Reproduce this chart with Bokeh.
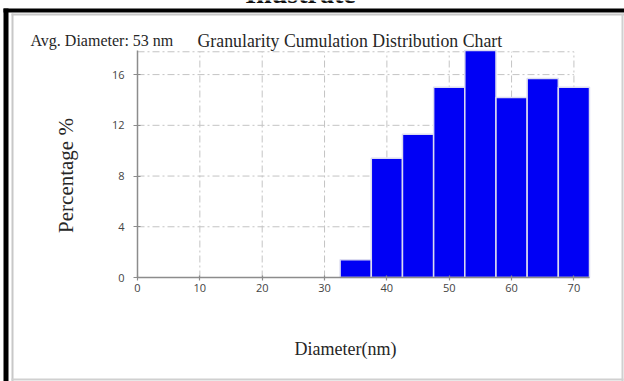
from bokeh.plotting import figure
from bokeh.models import FixedTicker, Label, BoxAnnotation
from bokeh.embed import file_html
from bokeh.resources import INLINE
import math

# Particle size distribution (bin centres in nm, share of particles in %)
diameters = [35, 40, 45, 50, 55, 60, 65, 70]
percentages = [1.4, 9.4, 11.3, 15.0, 17.9, 14.2, 15.7, 15.0]
bin_width = 5

x_ticks = [0, 10, 20, 30, 40, 50, 60, 70]
y_ticks = [0, 4, 8, 12, 16]
x_end = 72.5
y_top = 17.8
y_end = 17.9

chart_title = "Granularity Cumulation Distribution Chart"
avg_text = "Avg. Diameter: 53 nm"
x_title = "Diameter(nm)"
y_title = "Percentage %"
header = "Illustrate"

SERIF = "Liberation Serif"
SANS = "Open Sans"

W, H = 624, 381
# pixel box of the data region on the page
PX_L, PX_R, PX_T, PX_B = 137, 589, 50, 277

sx = (PX_R - PX_L) / x_end
sy = (PX_B - PX_T) / y_end
x_range = (-PX_L / sx, (W - PX_L) / sx)
y_range = (-(H - PX_B) / sy, PX_B / sy)

# the frame fills the whole page; axes are pinned at the data origin
p = figure(width=W, height=H, x_range=x_range, y_range=y_range,
           output_backend="svg", toolbar_location=None,
           min_border=0, min_border_left=0, min_border_right=0,
           min_border_top=0, min_border_bottom=0)
p.title.visible = False
p.background_fill_color = "white"
p.border_fill_color = "white"
p.outline_line_color = None
p.grid.visible = False

# dash-dot grid, spanning 0..70 nm and 0..top
gx = x_ticks[1:]
gy = y_ticks[1:] + [y_top]
grid_style = dict(line_color="#c4c4c4", line_dash="7 3 2 3", line_width=1,
                  level="underlay")
p.segment(x0=gx, x1=gx, y0=[0] * len(gx), y1=[y_top] * len(gx), **grid_style)
p.segment(x0=[0] * len(gy), x1=[x_ticks[-1]] * len(gy), y0=gy, y1=gy, **grid_style)

# histogram bars
p.vbar(x=diameters, top=percentages, width=bin_width,
       fill_color="#0000f5", line_color="#dcdcf0", line_width=1.5)

for ax in (p.xaxis[0], p.yaxis[0]):
    ax.fixed_location = 0
    ax.axis_line_color = "#8c8c8c"
    ax.axis_line_width = 1.5
    ax.major_tick_line_color = "#8c8c8c"
    ax.major_tick_line_width = 1.2
    ax.minor_tick_line_color = None
    ax.major_label_text_font = SANS
    ax.major_label_text_font_size = "11px"
    ax.major_label_text_color = "#444444"

p.xaxis.bounds = (0, x_end)
p.xaxis.ticker = FixedTicker(ticks=x_ticks)
p.xaxis.major_tick_in = 2
p.xaxis.major_tick_out = 3
p.xaxis.major_label_standoff = 3

p.yaxis.bounds = (0, y_end)
p.yaxis.ticker = FixedTicker(ticks=y_ticks)
p.yaxis.major_tick_in = 3
p.yaxis.major_tick_out = 4
p.yaxis.major_label_standoff = 9


def label(text, cx, cy, size, align="left", baseline="alphabetic",
          angle=0.0, font=SERIF, style="normal", color="#262626"):
    p.add_layout(Label(x=cx, y=H - cy, x_units="screen", y_units="screen",
                       text=text, text_font=font, text_font_size=size,
                       text_font_style=style, text_color=color,
                       text_align=align, text_baseline=baseline, angle=angle))


label(avg_text, 30, 40, "16px")
label(chart_title, 197, 40, "17.8px")
label(x_title, 345, 348, "18px", align="center", baseline="middle")
label(y_title, 65, 175, "21px", align="center", baseline="middle",
      angle=math.pi / 2)
label(header, 300, -7, "28px", align="center", style="bold", color="#111111")


# picture frame: heavy black edge at top/left, thin grey inner rule
def box(l, r, t, b, color):
    p.add_layout(BoxAnnotation(left=l, right=r, top=H - t, bottom=H - b,
                               left_units="screen", right_units="screen",
                               top_units="screen", bottom_units="screen",
                               fill_color=color, fill_alpha=1.0,
                               line_color=None, level="overlay"))


box(3, 8, 8, 381, "black")
box(3, 624, 8, 12, "black")
box(11, 13, 13, 381, "#c8c8c8")
box(11, 624, 13, 15, "#c8c8c8")
box(621, 623, 13, 381, "#d0d0d0")
box(11, 623, 378, 380, "#d0d0d0")

open("out.html", "w").write(file_html(p, INLINE))
